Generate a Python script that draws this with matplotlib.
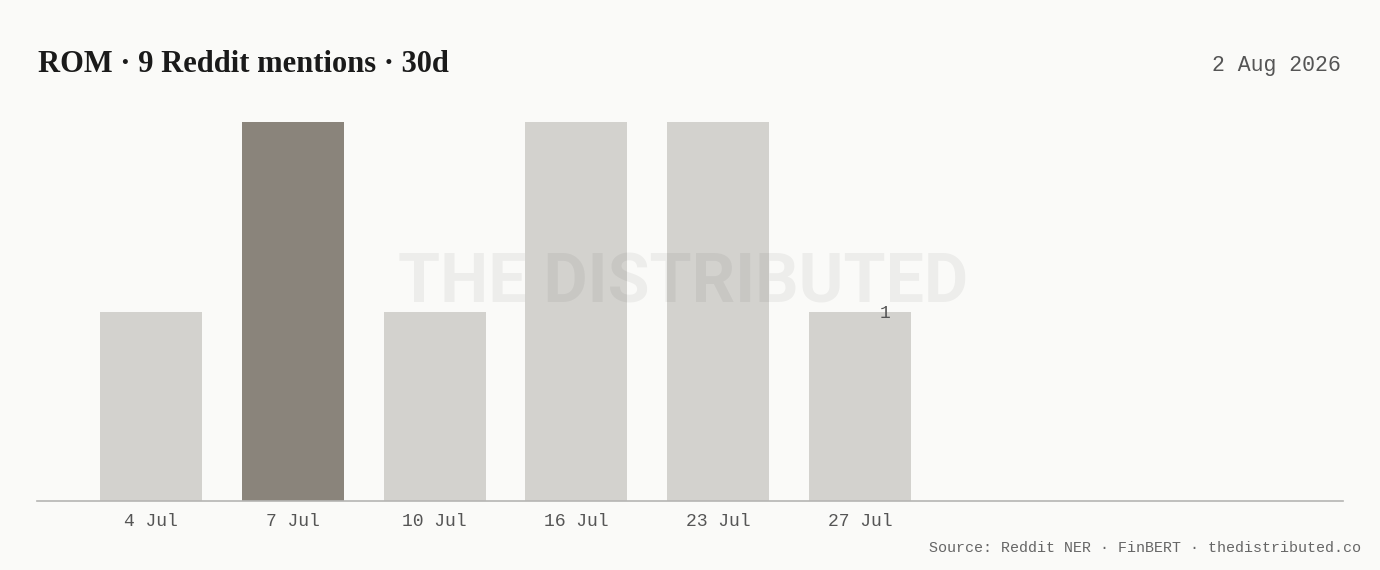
import numpy as np
import matplotlib
matplotlib.use('Agg')
from matplotlib import pyplot as plt

# data
dates      = ['4 Jul', '7 Jul', '10 Jul', '16 Jul', '23 Jul', '27 Jul']
mentions   = [1, 2, 1, 2, 2, 1]
highlight  = '7 Jul'
title_text = 'ROM · 9 Reddit mentions · 30d'
date_text  = '2 Aug 2026'
source_txt = 'Source: Reddit NER · FinBERT · thedistributed.co'

bg         = '#fafaf8'
light_bar  = '#d3d2ce'
dark_bar   = '#8a847b'
mono       = 'Liberation Mono'

W, H = 1380, 570
fig = plt.figure(figsize=(W/100, H/100), dpi=100, facecolor=bg)
ax  = fig.add_axes([37/W, (H-501)/H, 1306/W, 379/H])
ax.set_facecolor(bg)

x = np.arange(len(dates))
colors = [dark_bar if d == highlight else light_bar for d in dates]
ax.bar(x, mentions, width=0.72, color=colors, zorder=2)

ax.text(x[-1] + 0.18, mentions[-1] - 0.012, str(mentions[-1]),
        family=mono, fontsize=13, color='#555555',
        ha='center', va='center', zorder=3)

ax.set_xlim(-0.804, 8.406)
ax.set_ylim(0, 2)
ax.set_xticks(x)
ax.set_xticklabels(dates, family=mono, fontsize=13, color='#555555')
ax.tick_params(axis='x', length=0, pad=9)
ax.set_yticks([])
for s in ['top', 'right', 'left']:
    ax.spines[s].set_visible(False)
ax.spines['bottom'].set_color('#b5b5b3')
ax.spines['bottom'].set_linewidth(1.2)

# watermark, drawn over the bars
fig.text(683/W, (H-284)/H, 'THE DISTRIBUTED',
         fontsize=49, fontweight='bold', family='Roboto',
         color='black', alpha=0.05, ha='center', va='center', zorder=5)

fig.text(38/W, (H-72)/H, title_text, family='Liberation Serif',
         fontweight='bold', fontsize=22, color='#1a1a1a', va='baseline', ha='left')
fig.text(1341/W, (H-71)/H, date_text, family=mono, fontsize=15.5,
         color='#555555', va='baseline', ha='right')
fig.text(1361/W, (H-552)/H, source_txt, family=mono, fontsize=10.8,
         color='#666666', va='baseline', ha='right')

fig.savefig('out.png', dpi=100, facecolor=bg)
